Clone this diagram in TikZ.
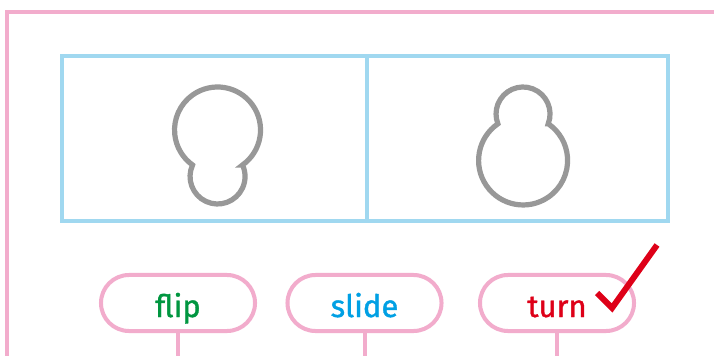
\documentclass[tikz,border=0pt]{standalone}
\usepackage{fontspec}
\usepackage{xcolor}
\usepackage{tikz}
\usetikzlibrary{shapes.misc}
\newfontfamily\pillfont{Fira Sans}[FakeBold=1.2]
\definecolor{pinkline}{RGB}{242,172,204}
\definecolor{blueline}{RGB}{160,216,240}
\definecolor{grayline}{RGB}{152,152,152}
\definecolor{flipgreen}{RGB}{0,150,64}
\definecolor{slideblue}{RGB}{0,160,228}
\definecolor{turnred}{RGB}{222,0,24}
\begin{document}
\begin{tikzpicture}[
  x=0.025cm, y=0.025cm,
  frame/.style={draw=pinkline, line width=0.1cm},
  panel/.style={draw=blueline, line width=0.1cm},
  outline/.style={draw=grayline, line width=0.13cm},
  pill/.style={draw=pinkline, line width=0.1cm, rounded rectangle, inner sep=0pt, minimum width=3.85cm, minimum height=1.4cm, text height=0.7cm, text depth=0cm, font=\pillfont\fontsize{22}{24}\selectfont},
  stem/.style={draw=pinkline, line width=0.1cm},
  tick/.style={draw=turnred, line width=0.15cm}
]
  \useasboundingbox (0,0) rectangle (714,355);
  \clip (0,0) rectangle (714,355);
  \fill[white] (0,0) rectangle (714,355);

  % outer frame
  \draw[frame] (7,-20) rectangle (715.5,343);

  % picture panels
  \draw[panel] (62,134) rectangle (668,299);
  \draw[panel] (367,134) -- (367,299);

  % shape before
  \draw[outline] (242.5,190) arc[start angle=-54.5, end angle=234.5, radius=43]
    arc[start angle=155.3, end angle=384.7, radius=27.5] -- cycle;

  % shape after
  \draw[outline] (548.2,231.2) arc[start angle=-21.3, end angle=201.3, radius=27]
    arc[start angle=124.5, end angle=415.5, radius=44.5] -- cycle;

  % answer choices
  \node[pill, text=flipgreen] (flip) at (178,52) {flip};
  \node[pill, text=slideblue] (slide) at (364.5,52) {slide};
  \node[pill, text=turnred] (turn) at (557,52) {turn};

  \foreach \p in {flip, slide, turn} {
    \coordinate (\p end) at ([yshift=-1cm]\p.south);
    \draw[stem] (\p.south) -- (\p end);
  }

  % tick on the answer
  \draw[tick] (597,62) -- (612,47) -- (657,110);
\end{tikzpicture}
\end{document}
